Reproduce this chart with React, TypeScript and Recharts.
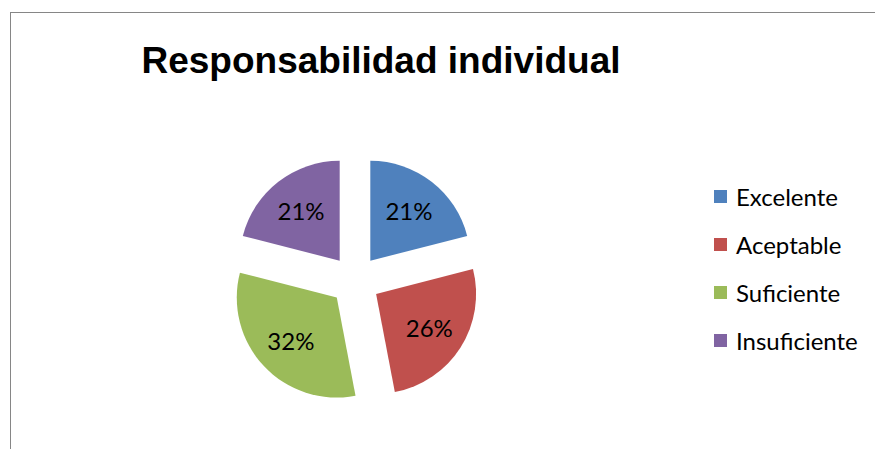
import { PieChart, Pie, Cell, Sector, Legend } from 'recharts';

const categories = ['Excelente', 'Aceptable', 'Suficiente', 'Insuficiente'];
const values = [21, 26, 32, 21];
const colors = ['#4F81BD', '#C0504D', '#9BBB59', '#8064A2'];

const data = categories.map((name, i) => ({ name, value: values[i] }));

const RAD = Math.PI / 180;
const EXPLODE = 25; // px each slice is pulled out

function ExplodedSlice(props: any) {
  const { cx, cy, midAngle, innerRadius, outerRadius, startAngle, endAngle, fill } = props;
  const dx = EXPLODE * Math.cos(-midAngle * RAD);
  const dy = EXPLODE * Math.sin(-midAngle * RAD);
  return (
    <Sector
      cx={cx + dx}
      cy={cy + dy}
      innerRadius={innerRadius}
      outerRadius={outerRadius}
      startAngle={startAngle}
      endAngle={endAngle}
      fill={fill}
      stroke="none"
    />
  );
}

function SliceLabel(props: any) {
  const { cx, cy, midAngle, outerRadius, value } = props;
  const r = EXPLODE + outerRadius * 0.63;
  const x = cx + r * Math.cos(-midAngle * RAD);
  const y = cy + r * Math.sin(-midAngle * RAD);
  return (
    <text
      x={x}
      y={y}
      textAnchor="middle"
      dominantBaseline="central"
      fontFamily="Lato, 'Open Sans', sans-serif"
      fontSize={24}
      fill="#000"
    >
      {`${value}%`}
    </text>
  );
}

function LegendList(props: any) {
  const items = [...(props.payload || [])].sort(
    (a: any, b: any) => categories.indexOf(a.value) - categories.indexOf(b.value)
  );
  return (
    <div style={{ fontFamily: "Lato, 'Open Sans', sans-serif", fontSize: 24, color: '#000' }}>
      {items.map((entry: any, i: number) => (
        <div key={i} style={{ display: 'flex', alignItems: 'center', height: 48 }}>
          <span style={{ width: 13, height: 13, background: entry.color, marginRight: 9, display: 'inline-block' }} />
          <span>{entry.value}</span>
        </div>
      ))}
    </div>
  );
}

export default function App() {
  return (
    <div style={{ position: 'absolute', left: 0, top: 0, width: 875, height: 449, background: '#fff', overflow: 'hidden' }}>
      <div
        style={{
          position: 'absolute',
          left: 10,
          top: 12,
          width: 900,
          height: 460,
          borderLeft: '1.5px solid #868686',
          borderTop: '1.5px solid #868686',
        }}
      />
      <div
        style={{
          position: 'absolute',
          left: 0,
          top: 40,
          width: 762,
          textAlign: 'center',
          fontFamily: "'Liberation Sans', Arial, sans-serif",
          fontWeight: 'bold',
          fontSize: 37,
          color: '#000',
          whiteSpace: 'nowrap',
        }}
      >
        Responsabilidad individual
      </div>
      <div style={{ position: 'absolute', left: 0, top: 0 }}>
        <PieChart width={875} height={449}>
          <Pie
            data={data}
            dataKey="value"
            nameKey="name"
            cx={350}
            cy={275.5}
            outerRadius={100}
            startAngle={90}
            endAngle={-270}
            shape={ExplodedSlice}
            label={SliceLabel}
            labelLine={false}
            isAnimationActive={false}
          >
            {data.map((d, i) => (
              <Cell key={d.name} fill={colors[i]} />
            ))}
          </Pie>
          <Legend
            layout="vertical"
            align="right"
            verticalAlign="top"
            content={LegendList}
            wrapperStyle={{ position: 'absolute', left: 714, top: 172, width: 160 }}
          />
        </PieChart>
      </div>
    </div>
  );
}
